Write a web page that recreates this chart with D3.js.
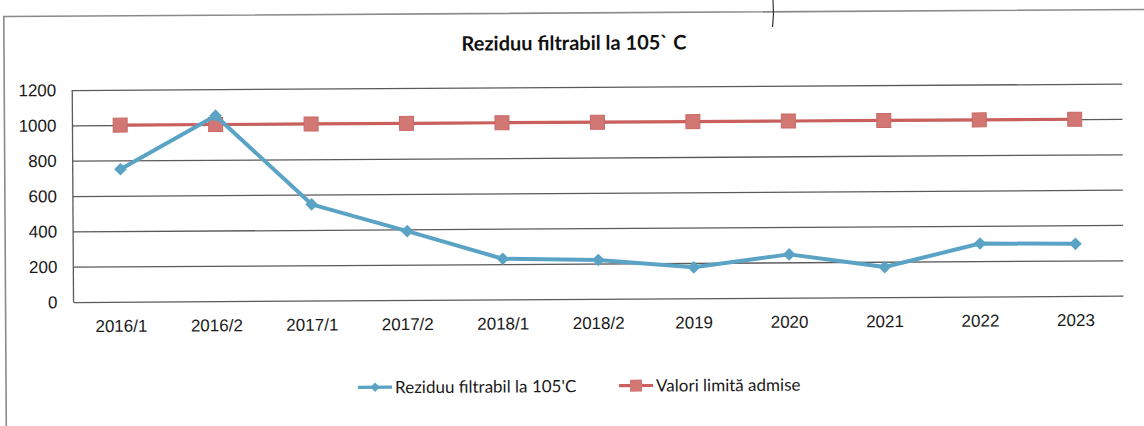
<!DOCTYPE html>
<html>
<head>
<meta charset="utf-8">
<script src="https://cdn.jsdelivr.net/npm/d3@7"></script>
<style>
  body { margin: 0; background: #fff; }
  svg { display: block; font-family: Lato, "Open Sans", sans-serif; }
  .axis text { fill: #1a1a1a; font-size: 17px; }
  .axis path { display: none; }
  .grid line { stroke: #5a5a5a; stroke-width: 1.3; }
  .grid path { display: none; }
</style>
</head>
<body>
<svg width="1144" height="426"></svg>
<script>
// categories and series
const periods = ['2016/1', '2016/2', '2017/1', '2017/2', '2018/1', '2018/2', '2019', '2020', '2021', '2022', '2023'];
const rezidu = [750, 1050, 545, 390, 230, 220, 175, 245, 170, 300, 295];
const limita = [1000, 1000, 1000, 1000, 1000, 1000, 1000, 1000, 1000, 1000, 1000];
const yTicks = [0, 200, 400, 600, 800, 1000, 1200];

const blue = '#5aa3c5';
const red = '#c9605d';

const svg = d3.select('svg');

// the scan is slightly tilted, so everything sits in a rotated group
const page = svg.append('g').attr('transform', 'rotate(-0.35, 572, 213)');

// outer chart frame
page.append('rect')
  .attr('x', 5).attr('y', 13)
  .attr('width', 1300).attr('height', 600)
  .attr('fill', 'none')
  .attr('stroke', '#8a8a8a')
  .attr('stroke-width', 1.6);

const plotL = 73, plotR = 1123, plotT = 87, plotB = 299;

const x = d3.scaleBand().domain(periods).range([plotL, plotR]);
const y = d3.scaleLinear().domain([0, 1200]).range([plotB, plotT]);
const cx = d => x(d) + x.bandwidth() / 2;

// gridlines
page.append('g')
  .attr('class', 'grid')
  .attr('transform', `translate(${plotL},0)`)
  .call(d3.axisLeft(y).tickValues(yTicks).tickSize(-(plotR - plotL)).tickFormat(''));

// left axis line
page.append('line')
  .attr('x1', plotL).attr('x2', plotL)
  .attr('y1', y(1200)).attr('y2', y(0))
  .attr('stroke', '#5a5a5a').attr('stroke-width', 1.3);

// y labels
page.append('g')
  .attr('class', 'axis')
  .attr('transform', `translate(${plotL},0)`)
  .call(d3.axisLeft(y).tickValues(yTicks).tickSize(0).tickPadding(16).tickFormat(d3.format('d')))
  .selectAll('line').remove();

// x labels
page.append('g')
  .attr('class', 'axis')
  .attr('transform', `translate(0,${plotB})`)
  .call(d3.axisBottom(x).tickSize(0).tickPadding(18))
  .selectAll('line').remove();

// title
page.append('text')
  .attr('x', 575).attr('y', 50)
  .attr('text-anchor', 'middle')
  .attr('font-weight', 'bold')
  .attr('font-size', 20)
  .attr('fill', '#111')
  .text('Reziduu filtrabil la 105` C');

const line = d3.line().x((d, i) => cx(periods[i])).y(d => y(d));

// limit series
page.append('path')
  .datum(limita)
  .attr('d', line)
  .attr('fill', 'none')
  .attr('stroke', red)
  .attr('stroke-width', 3.2);

page.selectAll('.sq')
  .data(limita)
  .enter()
  .append('rect')
  .attr('class', 'sq')
  .attr('x', (d, i) => cx(periods[i]) - 7)
  .attr('y', d => y(d) - 7)
  .attr('width', 14).attr('height', 14)
  .attr('fill', '#d27774')
  .attr('stroke', '#c86a67')
  .attr('stroke-width', 1);

// measured series
page.append('path')
  .datum(rezidu)
  .attr('d', line)
  .attr('fill', 'none')
  .attr('stroke', blue)
  .attr('stroke-width', 4)
  .attr('stroke-linejoin', 'round');

page.selectAll('.dm')
  .data(rezidu)
  .enter()
  .append('path')
  .attr('class', 'dm')
  .attr('transform', (d, i) => `translate(${cx(periods[i])},${y(d)}) rotate(45)`)
  .attr('d', d3.symbol().type(d3.symbolSquare).size(80))
  .attr('fill', blue);

// legend
const legend = page.append('g').attr('transform', 'translate(0,386)');
const items = [
  { label: "Reziduu filtrabil la 105'C", color: blue, x0: 357, mark: 'diamond' },
  { label: 'Valori limită admise', color: red, x0: 618, mark: 'square' }
];
items.forEach(it => {
  legend.append('line')
    .attr('x1', it.x0).attr('x2', it.x0 + 34)
    .attr('stroke', it.color).attr('stroke-width', 3.2);
  if (it.mark === 'diamond') {
    legend.append('path')
      .attr('transform', `translate(${it.x0 + 17},0) rotate(45)`)
      .attr('d', d3.symbol().type(d3.symbolSquare).size(45))
      .attr('fill', it.color);
  } else {
    legend.append('rect')
      .attr('x', it.x0 + 11).attr('y', -6)
      .attr('width', 12).attr('height', 12)
      .attr('fill', '#d27774');
  }
  legend.append('text')
    .attr('x', it.x0 + 37)
    .attr('dy', '0.36em')
    .attr('font-size', 17)
    .attr('fill', '#1a1a1a')
    .text(it.label);
});

// small pen mark on the scanned page
svg.append('path')
  .attr('d', 'M773,0 L773.5,14 L772.5,27')
  .attr('stroke', '#333')
  .attr('stroke-width', 1.2)
  .attr('fill', 'none');
</script>
</body>
</html>
